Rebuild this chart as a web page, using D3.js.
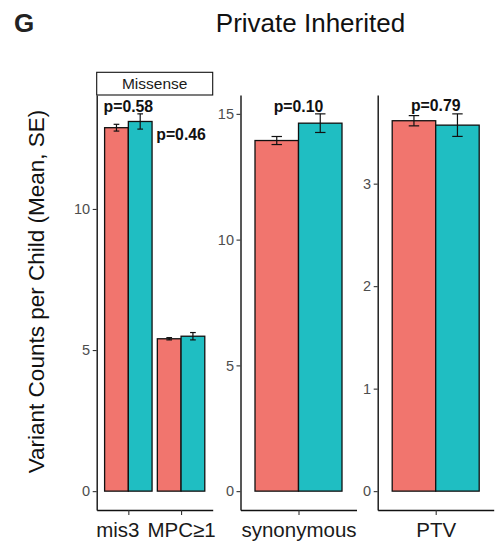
<!DOCTYPE html>
<html>
<head>
<meta charset="utf-8">
<script src="https://cdn.jsdelivr.net/npm/d3@7"></script>
<style>
  html, body { margin: 0; padding: 0; background: #fff; }
  svg { display: block; font-family: "Liberation Sans", Arial, Helvetica, sans-serif; }
</style>
</head>
<body>
<svg id="chart" width="498" height="550"></svg>
<script>
// ---- data ----
const panelStrips = ["Missense", "", ""];
const panelCategories = [["mis3", "MPC\u22651"], ["synonymous"], ["PTV"]];
const categories = ["mis3", "MPC\u22651", "synonymous", "PTV"];
const groupAMean = [12.88, 5.40, 13.94, 3.614];
const groupASE   = [0.12, 0.04, 0.16, 0.05];
const groupBMean = [13.10, 5.49, 14.63, 3.571];
const groupBSE   = [0.27, 0.13, 0.37, 0.11];
const pLabels    = ["p=0.58", "p=0.46", "p=0.10", "p=0.79"];
const pLabelY    = [13.43, 12.45, 15.07, 3.705];
const yTickValues = [[0, 5, 10], [0, 5, 10, 15], [0, 1, 2, 3]];

// ---- layout ----
const colorA = "#F1756E", colorB = "#1FBEC2";
const panelLeft = [96.7, 240.5, 377.7];
const panelWidth = 116;
const plotTop = 95, plotBottom = 510;
const stripTop = 72.3;
const labelGap = 8; // minimum space between neighbouring category labels

const svg = d3.select("#chart");

svg.append("text").attr("x", 14).attr("y", 32)
  .attr("font-size", 26).attr("font-weight", "bold").attr("fill", "#222")
  .text("G");
svg.append("text").attr("x", 310.5).attr("y", 32)
  .attr("font-size", 26).attr("text-anchor", "middle").attr("fill", "#111")
  .text("Private Inherited");

svg.append("text")
  .attr("transform", `translate(43.5, ${(plotTop + plotBottom) / 2 - 11}) rotate(-90)`)
  .attr("font-size", 22.5).attr("text-anchor", "middle").attr("fill", "#111")
  .text("Variant Counts per Child (Mean, SE)");

panelCategories.forEach((cats, pi) => {
  const x0 = panelLeft[pi], x1 = x0 + panelWidth;
  const rows = cats.map(c => {
    const k = categories.indexOf(c);
    return {
      cat: c,
      a: groupAMean[k], aSE: groupASE[k],
      b: groupBMean[k], bSE: groupBSE[k],
      label: pLabels[k], labelY: pLabelY[k]
    };
  });

  // continuous range expanded by 5% on both sides, anchored at zero
  const hi = d3.max(rows, r => Math.max(r.a + r.aSE, r.b + r.bSE));
  const lo = 0;
  const pad = (hi - lo) * 0.05;
  const y = d3.scaleLinear().domain([lo - pad, hi + pad]).range([plotBottom, plotTop]);
  const x = d3.scalePoint().domain(cats).range([x0, x1]).padding(0.6);
  const barW = x.step() * 0.45;
  const capW = barW * 0.24;

  const g = svg.append("g");

  // strip
  if (panelStrips[pi]) {
    g.append("rect").attr("x", x0).attr("y", stripTop)
      .attr("width", panelWidth).attr("height", plotTop - stripTop)
      .attr("fill", "#fff").attr("stroke", "#111").attr("stroke-width", 1.1);
    g.append("text").attr("x", (x0 + x1) / 2).attr("y", 89)
      .attr("text-anchor", "middle").attr("font-size", 15.5).attr("fill", "#1a1a1a")
      .text(panelStrips[pi]);
  }

  // bars
  const bars = [];
  rows.forEach(r => {
    bars.push({ x: x(r.cat) - barW, v: r.a, se: r.aSE, fill: colorA });
    bars.push({ x: x(r.cat), v: r.b, se: r.bSE, fill: colorB });
  });
  g.selectAll("rect.bar").data(bars).join("rect").attr("class", "bar")
    .attr("x", d => d.x).attr("width", barW)
    .attr("y", d => y(d.v)).attr("height", d => y(0) - y(d.v))
    .attr("fill", d => d.fill).attr("stroke", "#111").attr("stroke-width", 1.3);

  // error bars
  const eb = g.selectAll("g.eb").data(bars).join("g").attr("class", "eb")
    .attr("stroke", "#111").attr("stroke-width", 1.2).attr("fill", "none");
  eb.append("line")
    .attr("x1", d => d.x + barW / 2).attr("x2", d => d.x + barW / 2)
    .attr("y1", d => y(d.v - d.se)).attr("y2", d => y(d.v + d.se));
  eb.append("line")
    .attr("x1", d => d.x + barW / 2 - capW / 2).attr("x2", d => d.x + barW / 2 + capW / 2)
    .attr("y1", d => y(d.v + d.se)).attr("y2", d => y(d.v + d.se));
  eb.append("line")
    .attr("x1", d => d.x + barW / 2 - capW / 2).attr("x2", d => d.x + barW / 2 + capW / 2)
    .attr("y1", d => y(d.v - d.se)).attr("y2", d => y(d.v - d.se));

  // p-value labels
  g.selectAll("text.p").data(rows).join("text").attr("class", "p")
    .attr("x", d => x(d.cat)).attr("y", d => y(d.labelY))
    .attr("text-anchor", "middle").attr("font-size", 15.8).attr("font-weight", "bold")
    .attr("fill", "#111")
    .text(d => d.label);

  // axes
  const yAxis = g.append("g").attr("transform", `translate(${x0},0)`)
    .attr("font-family", null)
    .call(d3.axisLeft(y).tickValues(yTickValues[pi]).tickFormat(d3.format("d"))
      .tickSize(4).tickSizeOuter(0).tickPadding(2.5));
  yAxis.attr("font-family", null);
  yAxis.select(".domain").attr("stroke", "#111").attr("stroke-width", 1.4);
  yAxis.selectAll(".tick line").attr("stroke", "#333").attr("stroke-width", 1.1);
  yAxis.selectAll(".tick text").attr("font-size", 14.5).attr("fill", "#4d4d4d");

  const xAxis = g.append("g").attr("transform", `translate(0,${plotBottom})`)
    .call(d3.axisBottom(x).tickSize(5).tickSizeOuter(0));
  xAxis.attr("font-family", null);
  xAxis.select(".domain").attr("stroke", "#111").attr("stroke-width", 1.4);
  xAxis.selectAll(".tick line").attr("stroke", "#333").attr("stroke-width", 1.1);
  const labels = xAxis.selectAll(".tick text").attr("font-size", 20.5).attr("fill", "#1a1a1a")
    .attr("y", 27).attr("dy", 0);

  // nudge crowded labels leftwards so neighbours keep a small gap
  const nodes = labels.nodes();
  for (let i = nodes.length - 2; i >= 0; i--) {
    const cur = nodes[i], next = nodes[i + 1];
    const curRight = x(cats[i]) + (+cur.getAttribute("dx") || 0) + cur.getComputedTextLength() / 2;
    const nextLeft = x(cats[i + 1]) + (+next.getAttribute("dx") || 0) - next.getComputedTextLength() / 2;
    const overlap = curRight + labelGap - nextLeft;
    if (overlap > 0) cur.setAttribute("dx", -overlap);
  }
});
</script>
</body>
</html>
